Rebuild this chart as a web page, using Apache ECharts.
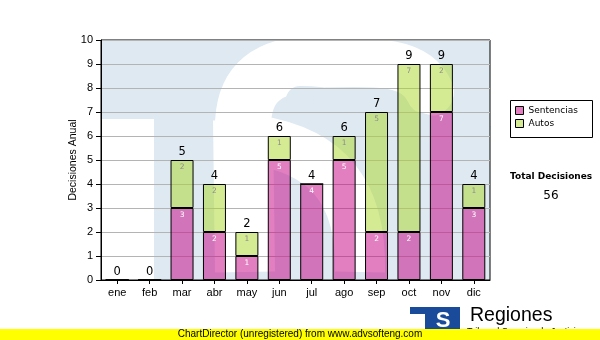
<!DOCTYPE html>
<html>
<head>
<meta charset="utf-8">
<script src="https://cdn.jsdelivr.net/npm/echarts@6/dist/echarts.min.js"></script>
<style>html,body{margin:0;padding:0;background:#fff;}#c{width:600px;height:340px;}</style>
</head>
<body>
<div id="c"></div>
<script>
const months = ['ene','feb','mar','abr','may','jun','jul','ago','sep','oct','nov','dic'];
const sentencias = [0,0,3,2,1,5,4,5,2,2,7,3];
const autos = [0,0,2,2,1,1,0,1,5,7,2,1];
const yTicks = [0,1,2,3,4,5,6,7,8,9,10];
const totals = sentencias.map((v,i)=>v+autos[i]);
const totalDecisiones = totals.reduce((a,b)=>a+b,0);

const chart = echarts.init(document.getElementById('c'), null, {renderer:'canvas'});
const BLUE = '#dee9f2';
const W = '#ffffff';
function bz(x1,y1,c1x,c1y,c2x,c2y,x2,y2,color,lw,cap,z){
  return {type:'bezierCurve', z:z, silent:true,
    shape:{x1:x1,y1:y1,cpx1:c1x,cpy1:c1y,cpx2:c2x,cpy2:c2y,x2:x2,y2:y2},
    style:{fill:null, stroke:color, lineWidth:lw, lineCap:cap}};
}
const wm = [
  {type:'rect', z:-10, shape:{x:101,y:40,width:389,height:240}, style:{fill:BLUE}, silent:true},
  {type:'rect', z:-9, shape:{x:102,y:119,width:52,height:161}, style:{fill:W}, silent:true},
  bz(430,92, 415,58, 370,62, 310,64, W,48,'round',-9),
  bz(310,64, 262,66, 242,88, 243,130, W,56,'round',-9),
  {type:'line', z:-9, silent:true, shape:{x1:243,y1:120,x2:245,y2:272}, style:{stroke:W, lineWidth:60}},
  bz(255,140, 320,150, 362,185, 360,272, W,50,'butt',-9),
  bz(300,100, 360,100, 400,130, 489,140, BLUE,28,'butt',-8),
  {type:'circle', z:-8, silent:true, shape:{cx:300,cy:100,r:14}, style:{fill:BLUE}},
  {type:'rect', z:-8, shape:{x:452,y:118,width:38,height:160}, style:{fill:BLUE}, silent:true}
];
const extra = [
  {type:'rect', shape:{x:510.5,y:100.5,width:82,height:37}, style:{fill:'#fff', stroke:'#000', lineWidth:1}, z:1},
  {type:'text', x:510, y:172, style:{text:'Total Decisiones', font:'bold 9px "DejaVu Sans"', fill:'#000'}},
  {type:'text', x:551, y:196, style:{text:String(totalDecisiones), font:'12px "DejaVu Sans"', fill:'#000', align:'center', verticalAlign:'middle'}},
  {type:'rect', shape:{x:410,y:307,width:50,height:7}, style:{fill:'#1a4b9b'}},
  {type:'rect', shape:{x:425,y:307,width:35,height:25}, style:{fill:'#1a4b9b'}},
  {type:'text', x:443, y:321, style:{text:'S', font:'bold 22px "Liberation Sans"', fill:'#fff', align:'center', verticalAlign:'middle'}},
  {type:'text', x:470, y:316, style:{text:'Regiones', font:'19.5px "Liberation Sans"', fill:'#000', verticalAlign:'middle'}},
  {type:'text', x:467, y:327, style:{text:'Tribunal Superior de Justicia', font:'9px "Liberation Sans"', fill:'#000'}},
  {type:'rect', shape:{x:0,y:329,width:600,height:11}, style:{fill:'#ffff00'}, z:5},
  {type:'text', x:300, y:334.5, z:6, style:{text:'ChartDirector (unregistered) from www.advsofteng.com', font:'10px "Liberation Sans"', fill:'#000', align:'center', verticalAlign:'middle'}}
];

const segLabel = (color) => ({
  show:true, position:'insideTop', distance:3, color:color, fontSize:7.5, fontFamily:'DejaVu Sans',
  formatter: p => p.value > 0 ? String(p.value) : ''
});

chart.setOption({
  animation:false,
  backgroundColor:'#fff',
  graphic: wm.concat(extra),
  grid:{left:101, right:110, top:40, bottom:60, show:true, borderColor:'#000', borderWidth:1, backgroundColor:'transparent', z:3},
  legend:{
    data:['Sentencias','Autos'], orient:'vertical', left:515, top:106,
    itemWidth:8, itemHeight:8, itemGap:4, icon:'rect', padding:0, z:4,
    textStyle:{fontFamily:'DejaVu Sans', fontSize:9, color:'#000'},
    itemStyle:{borderColor:'#000', borderWidth:1}
  },
  xAxis:{
    type:'category', data:months,
    axisLine:{show:true, lineStyle:{color:'#000', width:1}},
    axisTick:{show:true, alignWithLabel:true, length:4, lineStyle:{color:'#000'}},
    axisLabel:{color:'#000', fontFamily:'Liberation Sans', fontSize:11, margin:7},
    z:3
  },
  yAxis:{
    type:'value', min:yTicks[0], max:yTicks[yTicks.length-1], interval:1,
    name:'Decisiones Anual', nameLocation:'middle', nameGap:22, nameMoveOverlap:false,
    nameTextStyle:{fontFamily:'Liberation Sans', fontSize:10.5, color:'#000'},
    axisLine:{show:true, lineStyle:{color:'#000', width:1}},
    axisTick:{show:true, length:5, lineStyle:{color:'#000'}},
    axisLabel:{color:'#000', fontFamily:'Liberation Sans', fontSize:11, margin:8},
    splitLine:{show:true, lineStyle:{color:'#b4b4b4', width:1}},
    z:3
  },
  series:[
    {name:'Sentencias', type:'bar', stack:'a', barWidth:23, data:sentencias,
     itemStyle:{color:'rgba(196,0,130,0.5)', borderColor:'#000', borderWidth:1},
     label:segLabel('#ffffff'), z:4},
    {name:'Autos', type:'bar', stack:'a', barWidth:23, data:autos,
     itemStyle:{color:'rgba(172,216,40,0.5)', borderColor:'#000', borderWidth:1},
     label:segLabel('#8c8c8c'), z:4},
    {name:'Total', type:'bar', stack:'a', barWidth:23, data:totals.map(()=>0),
     itemStyle:{color:'rgba(0,0,0,0)', borderWidth:0},
     label:{show:true, position:'top', distance:2, color:'#000', fontSize:11.5, fontFamily:'DejaVu Sans',
            formatter: p => String(totals[p.dataIndex])}, z:4}
  ]
});
</script>
</body>
</html>
